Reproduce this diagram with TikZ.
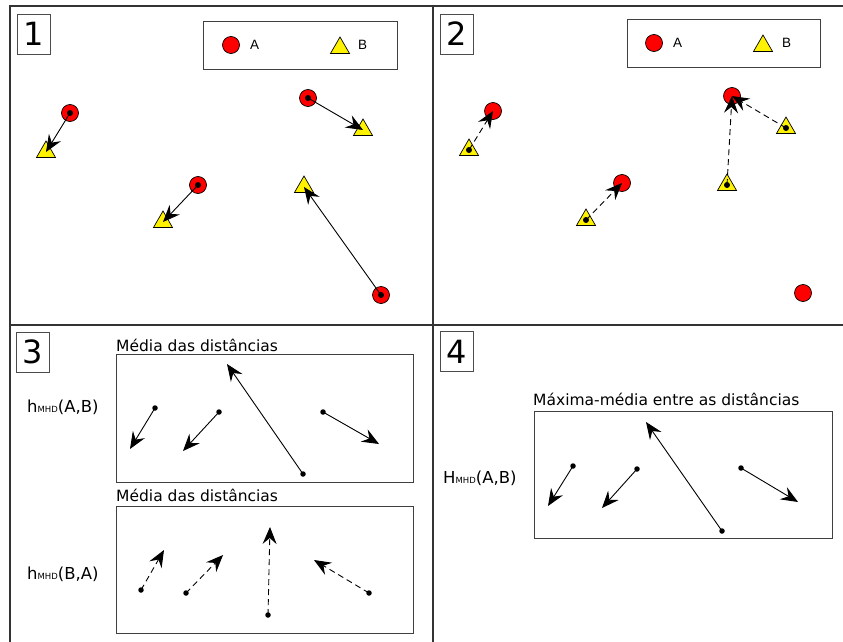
\documentclass[tikz,border=0pt]{standalone}
\usepackage{fontspec}
\setmainfont{DejaVu Sans}
\newfontfamily\legfont{Liberation Sans}
\usetikzlibrary{shapes.geometric,arrows.meta}

\tikzset{
  frame/.style={line width=1.6pt, black!80},
  thinbox/.style={draw=black!75, line width=0.9pt},
  numbox/.style={draw=black!70, line width=0.8pt, minimum width=33pt, minimum height=40pt, inner sep=0pt, font=\fontsize{32}{32}\selectfont},
  ptA/.style={circle, draw=black, line width=0.7pt, fill=red, minimum size=17pt, inner sep=0pt},
  ptB/.style={regular polygon, regular polygon sides=3, draw=black, line width=0.7pt, fill=yellow, minimum size=22pt, inner sep=0pt},
  dotmark/.style={circle, fill=black, minimum size=5.5pt, inner sep=0pt},
  leg/.style={anchor=west, inner sep=0pt, font=\legfont\fontsize{13.5}{15}\selectfont},
  title/.style={anchor=base west, inner sep=0pt, font=\fontsize{15.5}{18}\selectfont},
  hlab/.style={anchor=base west, inner sep=0pt, font=\fontsize{16.5}{19}\selectfont},
  vec/.style={-{Stealth[length=17pt, width=14pt, inset=6pt]}, line width=0.9pt},
  dvec/.style={vec, dash pattern=on 6pt off 4pt}
}
\newcommand{\mhd}{{\fontsize{8.5}{9}\selectfont MHD}}

\begin{document}
\begin{tikzpicture}[x=1pt, y=-1pt]
    \useasboundingbox (0,0) rectangle (843,642);
    % outer frame and quadrants
    \draw[frame] (10,6) rectangle (848,648);
    \draw[frame] (433,6) -- (433,648);
    \draw[frame] (10,325) -- (848,325);

    % ---------- panel 1 ----------
    \node[numbox] (n1) at (33.5,34) {1};
    \draw[thinbox] (203,21) rectangle (397,69);
    \node[ptA] (legA1) at (231,45) {};
    \node[leg] at (250,45) {A};
    \node[ptB] (legB1) at (340,48) {};
    \node[leg] at (358,45) {B};
    % points of A and B
    \foreach \n/\ax/\ay/\bx/\by in {1/70/113/46/152, 2/198/185/163/222, 3/308/98/363/130, 4/381/295/304/187} {
        \node[ptA] (a\n) at (\ax,\ay) {};
        \node[ptB] (b\n) at (\bx,\by) {};
        \fill (a\n.center) circle (3pt);
        \draw[vec] (a\n.center) -- (b\n.center);
    }

    % ---------- panel 2 ----------
    \node[numbox] (n2) at (456.5,34) {2};
    \draw[thinbox] (627,19) rectangle (820,67);
    \node[ptA] (legA2) at (654,43) {};
    \node[leg] at (673,43) {A};
    \node[ptB] (legB2) at (763,46) {};
    \node[leg] at (782,43) {B};
    \node[ptA] (c1) at (493,111) {};
    \node[ptA] (c2) at (622,183) {};
    \node[ptA] (c3) at (732,96) {};
    \node[ptA] (c4) at (803,293) {};
    \foreach \n/\bx/\by/\t in {1/469/150/1, 2/586/220/2, 3/727/185/3, 4/786/128/3} {
        \node[ptB] (d\n) at (\bx,\by) {};
        \fill (d\n.center) circle (3pt);
        \draw[dvec] (d\n.center) -- (c\t.center);
    }

    % ---------- panel 3 ----------
    \node[numbox] (n3) at (33,352) {3};
    \node[title] at (116,351) {Média das distâncias};
    \draw[thinbox] (116,354) rectangle (413,482);
    \node[hlab] at (27,412) {h\mhd(A,B)};
    \foreach \n/\sx/\sy/\ex/\ey in {1/155/408/130/449, 2/219/412/183/451, 3/303/474/227/364, 4/323/412/379/444} {
        \node[dotmark] (u\n) at (\sx,\sy) {};
        \coordinate (ue\n) at (\ex,\ey);
        \draw[vec] (u\n.center) -- (ue\n);
    }
    \node[title] at (116,501.5) {Média das distâncias};
    \draw[thinbox] (116,506) rectangle (413,633);
    \node[hlab] at (27,579) {h\mhd(B,A)};
    \foreach \n/\sx/\sy/\ex/\ey in {1/141/590/164/550, 2/186/593/223/555, 3/268/615/270/527, 4/369/593/314/560} {
        \node[dotmark] (l\n) at (\sx,\sy) {};
        \coordinate (le\n) at (\ex,\ey);
        \draw[dvec] (l\n.center) -- (le\n);
    }

    % ---------- panel 4 ----------
    \node[numbox] (n4) at (457,351.5) {4};
    \node[title] at (533,405.5) {Máxima-média entre as distâncias};
    \draw[thinbox] (534,411) rectangle (832,538);
    \node[hlab] at (443,483) {H\mhd(A,B)};
    \foreach \n/\sx/\sy/\ex/\ey in {1/573/466/548/506, 2/637/469/602/508, 3/722/531/646/422, 4/741/468/798/502} {
        \node[dotmark] (m\n) at (\sx,\sy) {};
        \coordinate (me\n) at (\ex,\ey);
        \draw[vec] (m\n.center) -- (me\n);
    }
\end{tikzpicture}
\end{document}
